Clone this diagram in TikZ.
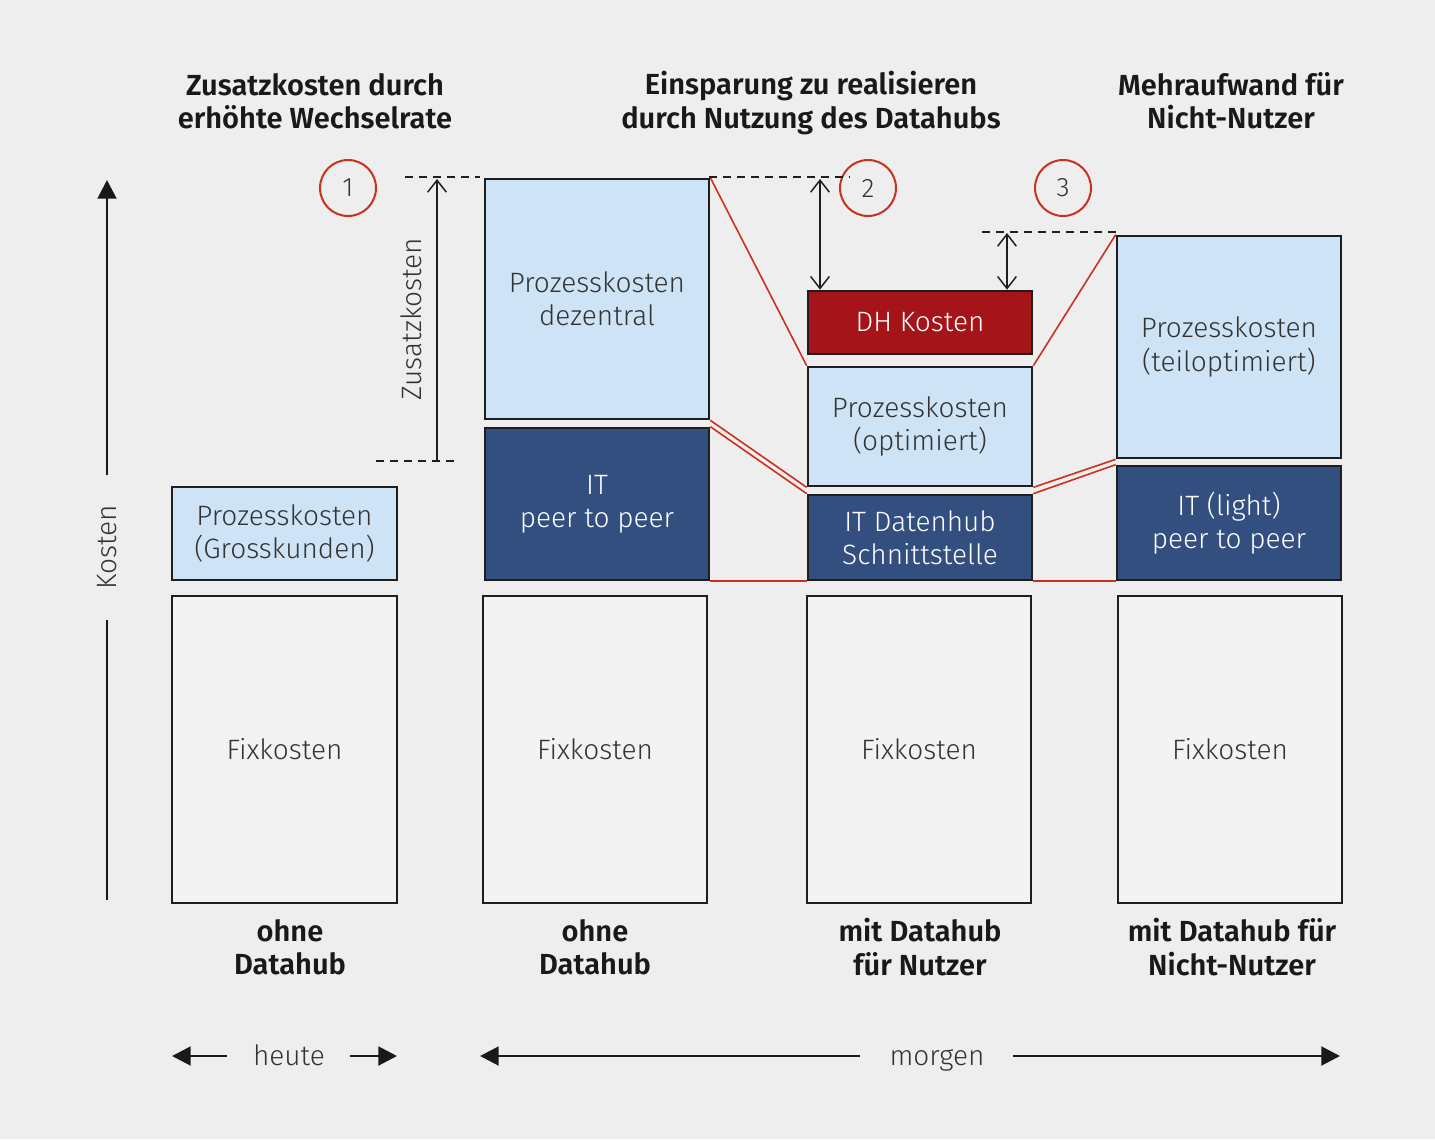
\documentclass[tikz,border=0pt]{standalone}
\usepackage{fontspec}
\setmainfont{Fira Sans}[UprightFont=* Light, BoldFont=* SemiBold]
\usetikzlibrary{arrows.meta,backgrounds}
\definecolor{bg}{HTML}{EEEEEE}
\definecolor{lightblue}{HTML}{CFE3F7}
\definecolor{darkblue}{HTML}{324F7F}
\definecolor{dhred}{HTML}{A51419}
\definecolor{fixgray}{HTML}{F3F3F3}
\definecolor{edge}{HTML}{1E1E1E}
\definecolor{redline}{HTML}{C8321E}
\definecolor{txt}{HTML}{333333}
\tikzset{
  box/.style={draw=edge,line width=2pt,inner sep=0pt,align=center,minimum width=168pt,
    font=\fontsize{21}{25}\selectfont},
  lbox/.style={box,fill=lightblue,text=txt},
  dbox/.style={box,fill=darkblue,text=white},
  rbox/.style={box,fill=dhred,text=white},
  fbox/.style={box,fill=fixgray,text=txt},
  conn/.style={draw=redline,line width=1.2pt},
  hconn/.style={draw=redline,line width=1.6pt},
  dashline/.style={draw=edge,line width=1.1pt,dash pattern=on 6pt off 4.5pt},
  dim/.style={draw=edge,line width=1.1pt,{Straight Barb[length=9pt,width=14pt]}-{Straight Barb[length=9pt,width=14pt]}},
  dimone/.style={draw=edge,line width=1.1pt,-{Straight Barb[length=9pt,width=14pt]}},
  num/.style={circle,draw=redline,line width=1.5pt,minimum size=42pt,inner sep=0pt,text=txt,font=\fontsize{20}{24}\selectfont},
  head/.style={align=center,text=black!90,font=\bfseries\fontsize{21.8}{25}\selectfont},
  lab/.style={text=txt,font=\fontsize{21}{24}\selectfont},
  bigarrow/.style={draw=black!90,line width=2.2pt,-{Triangle[length=14pt,width=14pt]}},
  plainline/.style={draw=black!90,line width=2.2pt}
}
\begin{document}
\begin{tikzpicture}[x=0.75pt,y=-0.75pt]
\begin{scope}[on background layer]
\fill[bg] (0,0) rectangle (1435,1139);
\end{scope}
\useasboundingbox (0,0) rectangle (1435,1139);

% headings
\node[head] (h1) at (315,101) {Zusatzkosten durch\\erhöhte Wechselrate};
\node[head] (h2) at (811,103) {Einsparung zu realisieren\\durch Nutzung des Datahubs};
\node[head] (h3) at (1231,101) {Mehraufwand für\\Nicht-Nutzer};

% column 1
\node[lbox,minimum width=168.75pt,minimum height=69.75pt] (A1) at (284.5,533.5) {Prozesskosten\\(Grosskunden)};
\node[fbox,minimum width=168.75pt,minimum height=230.25pt] (F1) at (284.5,749.5) {Fixkosten};
% column 2
\node[lbox,minimum height=180pt] (A2) at (597,299) {Prozesskosten\\dezentral};
\node[dbox,minimum height=114pt] (B2) at (597,504) {IT\\peer to peer};
\node[fbox,minimum height=230.25pt] (F2) at (595,749.5) {Fixkosten};
% column 3
\node[rbox,minimum height=47.25pt] (C3) at (920,322.5) {DH Kosten};
\node[lbox,minimum height=89.25pt] (A3) at (920,426.5) {Prozesskosten\\(optimiert)};
\node[dbox,minimum height=63.75pt] (B3) at (920,537.5) {IT Datenhub\\Schnittstelle};
\node[fbox,minimum height=230.25pt] (F3) at (919,749.5) {Fixkosten};
% column 4
\node[lbox,minimum height=166.5pt] (A4) at (1229,347) {Prozesskosten\\(teiloptimiert)};
\node[dbox,minimum height=85.5pt] (B4) at (1229,523) {IT (light)\\peer to peer};
\node[fbox,minimum height=230.25pt] (F4) at (1230,749.5) {Fixkosten};

% red connectors
\begin{scope}[on background layer]
\draw[conn] (A2.north east) -- (A3.north west);
\draw[conn] (A2.south east) -- (A3.south west);
\draw[conn] (B2.north east) -- (B3.north west);
\draw[hconn] (B2.south east) -- (B3.south west);
\draw[conn] (A3.north east) -- (A4.north west);
\draw[conn] (A3.south east) -- (A4.south west);
\draw[conn] (B3.north east) -- (B4.north west);
\draw[hconn] (B3.south east) -- (B4.south west);
\end{scope}

% numbered circles
\node[num] (n1) at (348,188) {1};
\node[num] (n2) at (868,188) {2};
\node[num] (n3) at (1063,188) {3};

% dashed guide lines
\coordinate (d1a) at (405,177);
\coordinate (d1b) at (480,177);
\coordinate (d2a) at (376,461);
\coordinate (d2b) at (458,461);
\coordinate (d3a) at (709,177);
\coordinate (d3b) at (850,177);
\coordinate (d4a) at (982,232);
\coordinate (d4b) at (1116,232);
\draw[dashline] (d1a) -- (d1b);
\draw[dashline] (d2a) -- (d2b);
\draw[dashline] (d3a) -- (d3b);
\draw[dashline] (d4a) -- (d4b);

% dimension arrows
\coordinate (z1) at (437,461);
\coordinate (z2) at (437,179);
\draw[dimone] (z1) -- (z2);
\node[lab,rotate=90] (zk) at (411,319) {Zusatzkosten};
\coordinate (e1) at (820,179);
\draw[dim] (e1) -- (e1 |- C3.north);
\coordinate (m1) at (1007,233);
\draw[dim] (m1) -- (m1 |- C3.north);

% Kosten axis
\coordinate (k0) at (107,900);
\coordinate (k1) at (107,620);
\coordinate (k2) at (107,475);
\coordinate (k3) at (107,180);
\node[lab,rotate=90] (kt) at (107,547) {Kosten};
\draw[plainline] (k0) -- (k1);
\draw[bigarrow] (k2) -- (k3);

% bottom labels
\node[head] (b1) at (290,947) {ohne\\Datahub};
\node[head] (b2) at (595,947) {ohne\\Datahub};
\node[head] (b3) at (920,947) {mit Datahub\\für Nutzer};
\node[head] (b4) at (1232,947) {mit Datahub für\\Nicht-Nutzer};

% time arrows
\node[lab,anchor=base] (heute) at (289,1065) {heute};
\node[lab,anchor=base] (morgen) at (937,1065) {morgen};
\coordinate (t1) at (172,1056);
\coordinate (t2) at (397,1056);
\coordinate (t3) at (480,1056);
\coordinate (t4) at (1340,1056);
\coordinate (s1) at (227,1056);
\coordinate (s2) at (350,1056);
\coordinate (s3) at (860,1056);
\coordinate (s4) at (1013,1056);
\draw[bigarrow] (s1) -- (t1);
\draw[bigarrow] (s2) -- (t2);
\draw[bigarrow] (s3) -- (t3);
\draw[bigarrow] (s4) -- (t4);
\end{tikzpicture}
\end{document}
